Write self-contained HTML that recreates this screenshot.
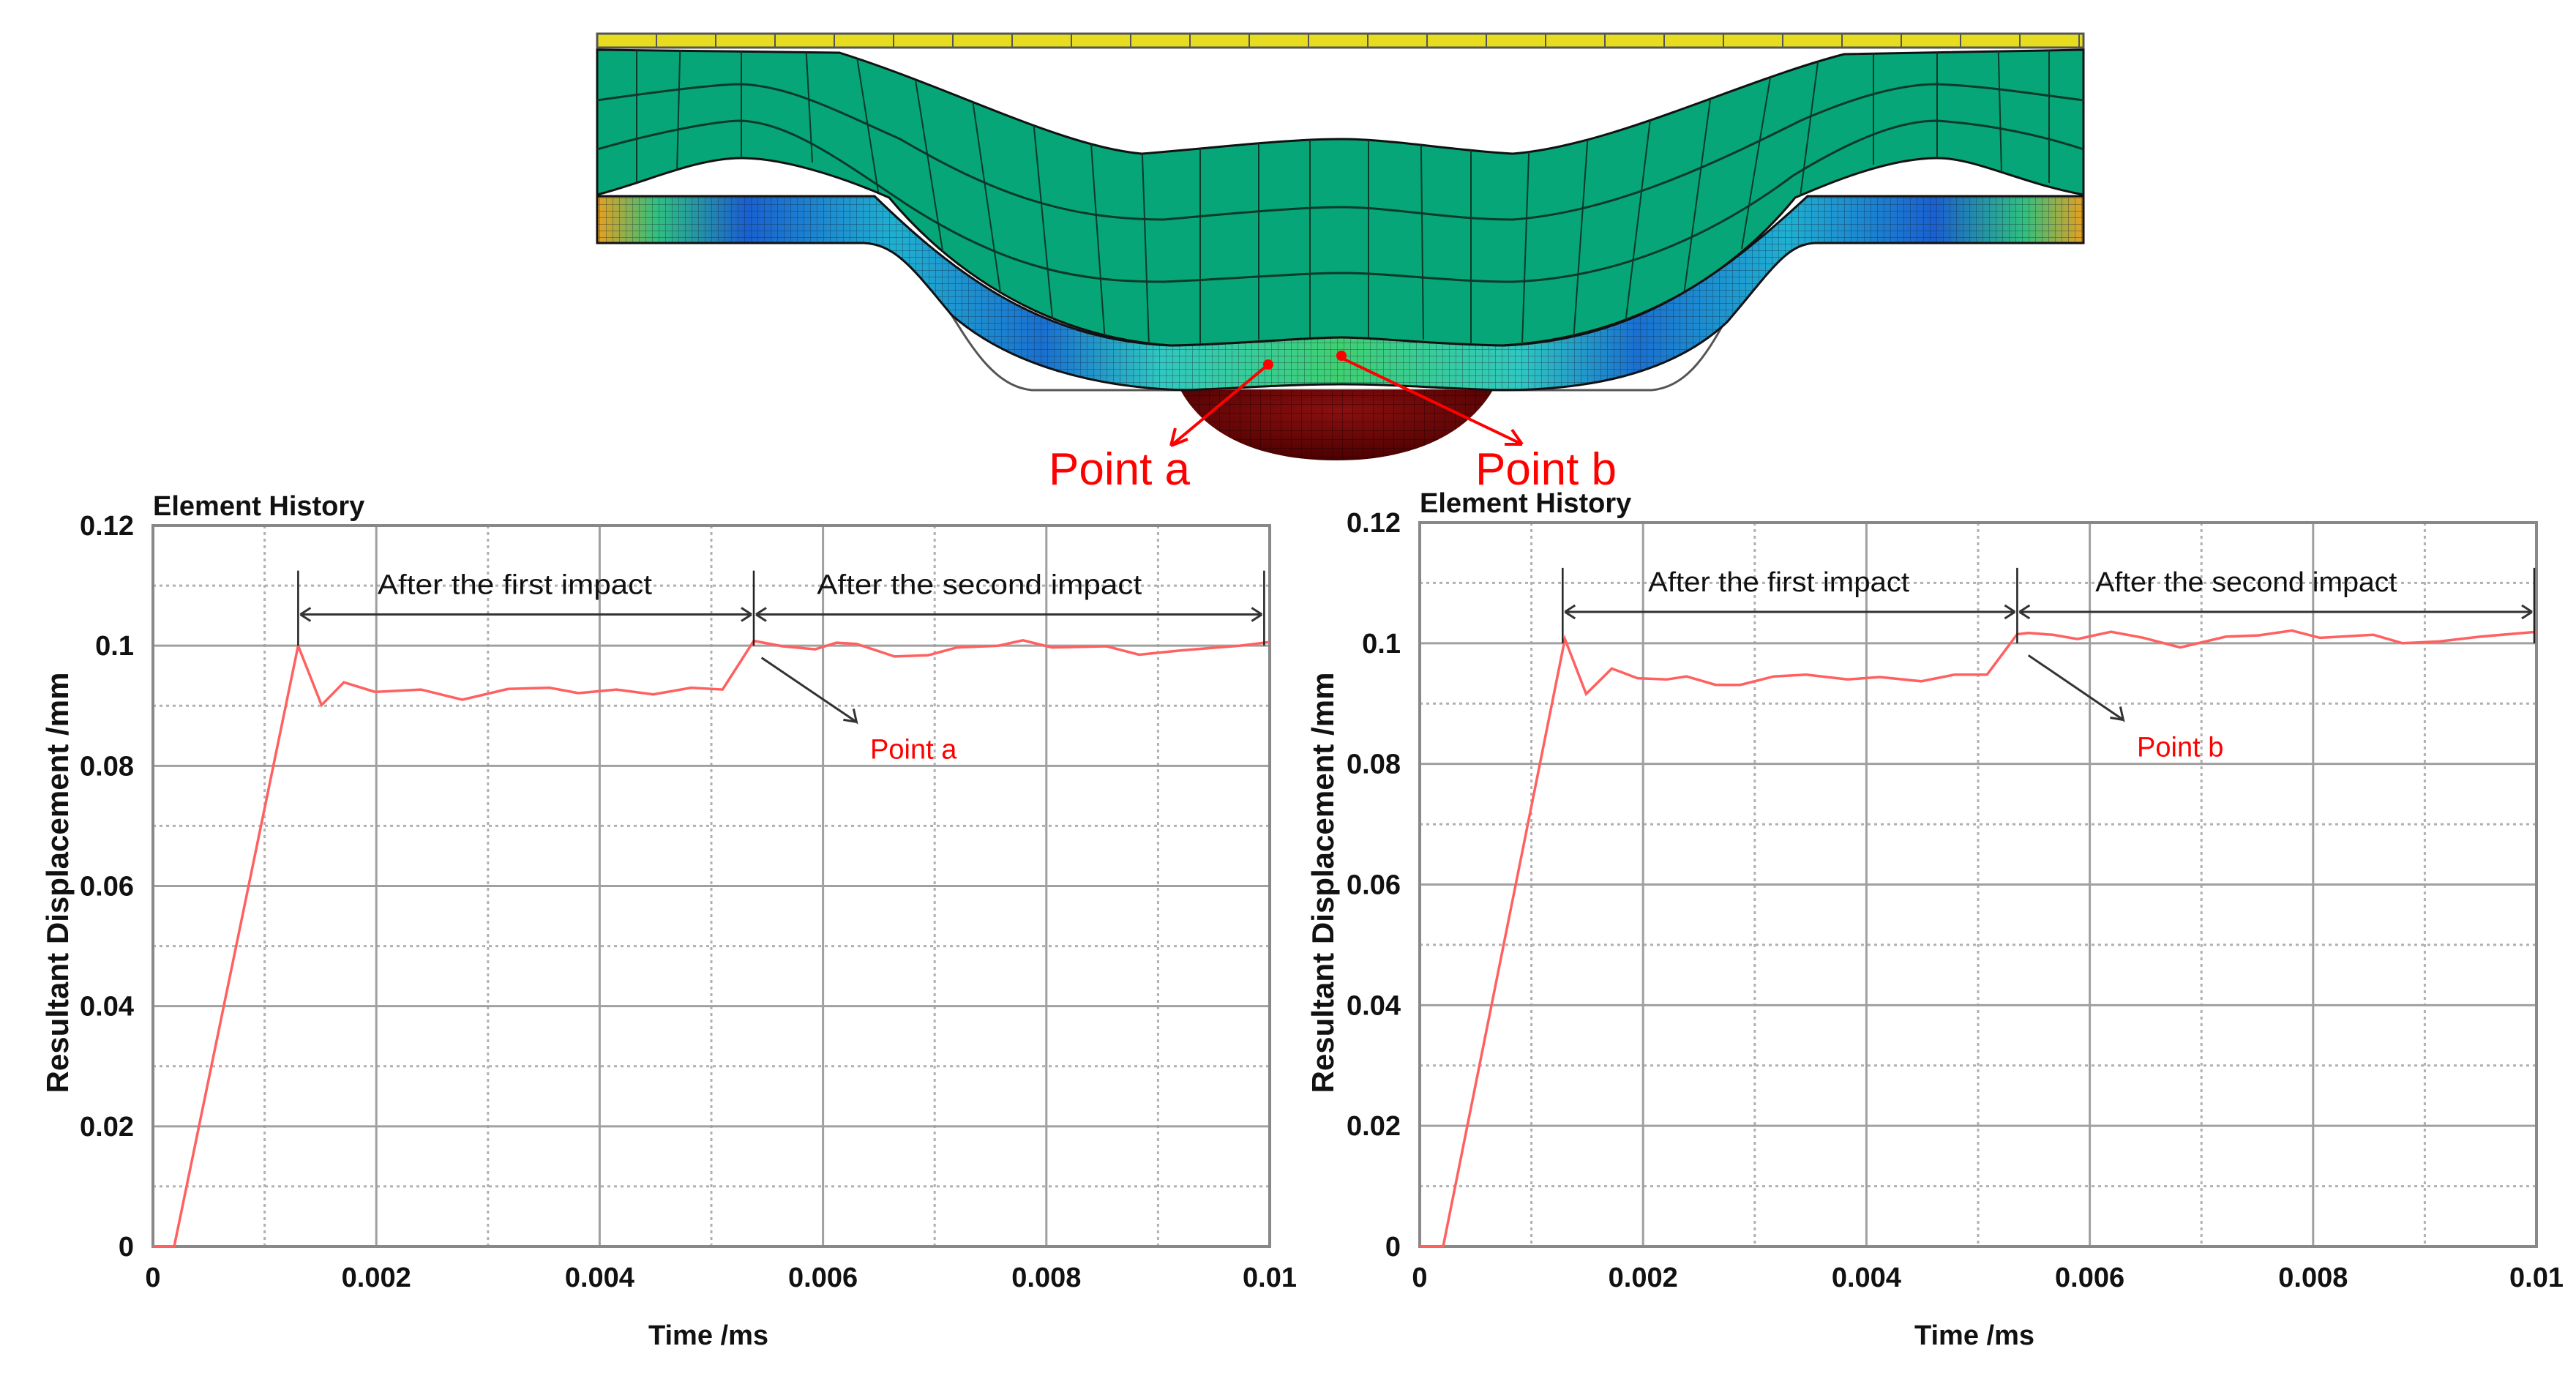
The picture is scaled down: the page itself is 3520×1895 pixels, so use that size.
<!DOCTYPE html>
<html><head><meta charset="utf-8"><style>
html,body{margin:0;padding:0;background:#fff;}
svg{display:block;font-family:"Liberation Sans",sans-serif;}
</style></head><body>
<svg id="root" width="3520" height="1895" viewBox="0 0 3520 1895" xmlns="http://www.w3.org/2000/svg">
<defs>
<pattern id="mesh" width="9" height="9" patternUnits="userSpaceOnUse"><path d="M0 0H9M0 0V9" stroke="#102030" stroke-width="1.2" opacity="0.55"/></pattern>
<pattern id="mesh2" width="14" height="12" patternUnits="userSpaceOnUse"><path d="M0 0H14M0 0V12" stroke="#200000" stroke-width="1.2" opacity="0.7"/></pattern>
<linearGradient id="bandg" x1="0" x2="1" y1="0" y2="0">
<stop offset="0" stop-color="#e8a020"/><stop offset="0.04" stop-color="#30c080"/><stop offset="0.1" stop-color="#1a60d0"/><stop offset="0.2" stop-color="#20b0d0"/><stop offset="0.3" stop-color="#1a70d0"/><stop offset="0.38" stop-color="#30c8c0"/><stop offset="0.5" stop-color="#40d070"/><stop offset="0.62" stop-color="#30c8c0"/><stop offset="0.7" stop-color="#1a70d0"/><stop offset="0.8" stop-color="#20b0d0"/><stop offset="0.9" stop-color="#1a60d0"/><stop offset="0.96" stop-color="#30c080"/><stop offset="1" stop-color="#e8a020"/>
</linearGradient>
<radialGradient id="ballg" cx="0.5" cy="0.3" r="0.7"><stop offset="0" stop-color="#8a1010"/><stop offset="1" stop-color="#4a0000"/></radialGradient>
<clipPath id="greenclip"><path d="M816 68 L1147 72 C1300 120 1450 200 1560 210 C1680 200 1760 190 1833 190 C1900 190 1980 205 2067 210 C2200 200 2380 110 2520 74 L2847 68 L2847 266 C2760 250 2700 216 2647 216 C2580 216 2500 250 2453 270 C2380 360 2250 460 2053 472 C1950 470 1880 461 1833 461 C1780 461 1700 470 1600 472 C1420 460 1290 360 1215 270 C1170 250 1080 216 1013 216 C950 216 880 250 816 266 Z"/></clipPath>
</defs>

<g id="fea">
  <path d="M1227 332 C1300 400 1330 525 1410 533 L2257 533 C2340 525 2360 400 2427 332" fill="none" stroke="#555" stroke-width="3"/>
  <path d="M1613 533 L2040 533 C2000 600 1920 629 1826 629 C1730 629 1650 600 1613 533 Z" fill="url(#ballg)"/>
  <path d="M1613 533 L2040 533 C2000 600 1920 629 1826 629 C1730 629 1650 600 1613 533 Z" fill="url(#mesh2)"/>
  <path d="M816 268 L1195 268 C1300 370 1420 465 1600 472 C1700 470 1780 461 1833 461 C1900 461 1980 470 2053 472 C2240 465 2360 370 2470 268 L2847 268 L2847 332 L2480 332 C2440 334 2420 370 2360 440 C2280 515 2160 533 2050 533 C1960 530 1900 525 1833 525 C1760 525 1700 530 1620 533 C1500 530 1380 500 1300 430 C1250 370 1225 334 1180 332 L816 332 Z" fill="url(#bandg)" stroke="#111" stroke-width="3"/>
  <path d="M816 268 L1195 268 C1300 370 1420 465 1600 472 C1700 470 1780 461 1833 461 C1900 461 1980 470 2053 472 C2240 465 2360 370 2470 268 L2847 268 L2847 332 L2480 332 C2440 334 2420 370 2360 440 C2280 515 2160 533 2050 533 C1960 530 1900 525 1833 525 C1760 525 1700 530 1620 533 C1500 530 1380 500 1300 430 C1250 370 1225 334 1180 332 L816 332 Z" fill="url(#mesh)"/>
  <path d="M816 68 L1147 72 C1300 120 1450 200 1560 210 C1680 200 1760 190 1833 190 C1900 190 1980 205 2067 210 C2200 200 2380 110 2520 74 L2847 68 L2847 266 C2760 250 2700 216 2647 216 C2580 216 2500 250 2453 270 C2380 360 2250 460 2053 472 C1950 470 1880 461 1833 461 C1780 461 1700 470 1600 472 C1420 460 1290 360 1215 270 C1170 250 1080 216 1013 216 C950 216 880 250 816 266 Z" fill="#06a678" stroke="#111" stroke-width="3"/>
  <g fill="none" stroke="#0a3a2a" stroke-width="3">
    <path d="M816 137 C900 125 980 115 1013 115 C1080 118 1140 150 1230 190 C1350 260 1450 300 1590 300 C1700 290 1780 283 1833 283 C1900 283 1980 300 2067 300 C2200 290 2330 230 2460 165 C2540 130 2600 115 2647 115 C2720 118 2790 130 2847 137"/>
    <path d="M816 204 C900 180 980 165 1013 165 C1080 168 1150 220 1240 280 C1380 370 1480 385 1590 385 C1700 380 1780 373 1833 373 C1900 373 1980 385 2067 385 C2200 380 2330 330 2450 240 C2540 185 2600 165 2647 165 C2720 170 2790 185 2847 204"/>
  </g>
  <g id="vlines" stroke="#0a3a2a" stroke-width="2" clip-path="url(#greenclip)"></g>
  <rect x="816" y="46" width="2031" height="19" fill="#e6dd20" stroke="#555" stroke-width="3"/>
  <g id="platediv" stroke="#555" stroke-width="2"></g>
  <circle cx="1733" cy="498" r="7" fill="#f00"/><circle cx="1833" cy="486" r="7" fill="#f00"/>
  <g stroke="#f00" stroke-width="4" fill="none">
    <path d="M1733 498 L1600 609 M1600 609 L1606 585 M1600 609 L1623 600"/>
    <path d="M1833 489 L2080 607 M2080 607 L2056 607 M2080 607 L2066 587"/>
  </g>
  <text x="1433" y="662" font-size="62" fill="#f00">Point a</text>
  <text x="2016" y="662" font-size="62" fill="#f00">Point b</text>
</g>

<g id="chartA"></g>
<g id="chartB"></g>
</svg>

<script>
const xTicks = [0, 0.002, 0.004, 0.006, 0.008, 0.01];
const xTickLabels = ["0", "0.002", "0.004", "0.006", "0.008", "0.01"];
const yTicks = [0, 0.02, 0.04, 0.06, 0.08, 0.1, 0.12];
const yTickLabels = ["0", "0.02", "0.04", "0.06", "0.08", "0.1", "0.12"];
const timesA = [0, 0.00019, 0.0013, 0.00151, 0.00171, 0.00199, 0.0024, 0.00277, 0.00318, 0.00355, 0.00381, 0.00415, 0.00448, 0.00482, 0.0051, 0.00538, 0.00564, 0.00593, 0.00612, 0.0063, 0.00664, 0.00694, 0.0072, 0.00757, 0.00779, 0.00805, 0.00854, 0.00883, 0.0092, 0.00973, 0.01];
const valuesA = [0, 0, 0.1, 0.0901, 0.0939, 0.0923, 0.0927, 0.091, 0.0928, 0.093, 0.0921, 0.0927, 0.0919, 0.093, 0.0927, 0.1008, 0.0999, 0.0994, 0.1005, 0.1003, 0.0982, 0.0984, 0.0997, 0.1, 0.1009, 0.0997, 0.0999, 0.0985, 0.0992, 0.1, 0.1006];
const timesB = [0, 0.00021, 0.0013, 0.00149, 0.00172, 0.00195, 0.00221, 0.00239, 0.00265, 0.00287, 0.00317, 0.00346, 0.00383, 0.00412, 0.00449, 0.00479, 0.00508, 0.00535, 0.00545, 0.00567, 0.00589, 0.00619, 0.00648, 0.00681, 0.00722, 0.00751, 0.00781, 0.00806, 0.00854, 0.0088, 0.00913, 0.0095, 0.01];
const valuesB = [0, 0, 0.1007, 0.0916, 0.0958, 0.0942, 0.094, 0.0945, 0.0931, 0.0931, 0.0945, 0.0948, 0.094, 0.0944, 0.0937, 0.0948, 0.0948, 0.1015, 0.1017, 0.1014, 0.1007, 0.1019, 0.1009, 0.0993, 0.1011, 0.1013, 0.1021, 0.1009, 0.1014, 0.1, 0.1003, 0.1011, 0.1019];
const impactTimesA = [0.0013, 0.00538, 0.00995];
const impactTimesB = [0.00128, 0.00535, 0.00998];

const NS = "http://www.w3.org/2000/svg";
function mk(parent, tag, attrs, text) {
  const e = document.createElementNS(NS, tag);
  for (const k in attrs) e.setAttribute(k, attrs[k]);
  if (text !== undefined) e.textContent = text;
  parent.appendChild(e);
  return e;
}

(function () {
  const pd = document.getElementById('platediv');
  for (let x = 816 + 81; x < 2847; x += 81) mk(pd, 'line', {x1: x, y1: 46, x2: x, y2: 65});
  const vl = document.getElementById('vlines');
  const segs = [[870,40,870,250],[930,40,925,235],[1013,40,1013,216],[1100,40,1110,222],[1165,40,1200,262],[1240,40,1290,355],[1315,40,1370,420],[1400,40,1440,455],[1480,40,1510,468],[1555,40,1570,472],[1640,40,1640,470],[1720,40,1720,464],[1790,40,1790,461],[1870,40,1870,461],[1940,40,1945,464],[2010,40,2010,470],[2095,40,2080,470],[2180,40,2150,466],[2270,40,2220,450],[2350,40,2300,410],[2430,40,2380,340],[2490,40,2460,268],[2560,40,2560,225],[2647,40,2647,216],[2730,40,2735,235],[2800,40,2800,250]];
  segs.forEach(s => mk(vl, 'line', {x1: s[0], y1: s[1], x2: s[2], y2: s[3]}));
})();

function drawChart(g, cfg) {
  const X = t => cfg.x0 + (t / 0.01) * (cfg.x1 - cfg.x0);
  const Y = v => cfg.yb - (v / 0.12) * (cfg.yb - cfg.yt);
  for (let i = 0; i < xTicks.length - 1; i++) {
    const t = (xTicks[i] + xTicks[i + 1]) / 2;
    const l = mk(g, 'line', {x1: X(t), y1: cfg.yt, x2: X(t), y2: cfg.yb, stroke: '#b0b0b0', 'stroke-width': 3, 'stroke-dasharray': '4 5'});
    
    
  }
  for (let i = 0; i < yTicks.length - 1; i++) {
    const v = (yTicks[i] + yTicks[i + 1]) / 2;
    const l = mk(g, 'line', {x1: cfg.x0, y1: Y(v), x2: cfg.x1, y2: Y(v), stroke: '#b0b0b0', 'stroke-width': 3, 'stroke-dasharray': '4 5'});
    
    
  }
  xTicks.forEach((t, i) => {
    const l = mk(g, 'line', {x1: X(t), y1: cfg.yt, x2: X(t), y2: cfg.yb, stroke: '#a0a0a0', 'stroke-width': 3});
    
    
    const tx = mk(g, 'text', {x: X(t), y: cfg.yb + 55, 'text-anchor': 'middle', 'font-size': 38, 'font-weight': 'bold', fill: '#111'}, xTickLabels[i]);
    
    
  });
  yTicks.forEach((v, i) => {
    const l = mk(g, 'line', {x1: cfg.x0, y1: Y(v), x2: cfg.x1, y2: Y(v), stroke: '#a0a0a0', 'stroke-width': 3});
    
    
    const tx = mk(g, 'text', {x: cfg.x0 - 26, y: Y(v) + 13, 'text-anchor': 'end', 'font-size': 38, 'font-weight': 'bold', fill: '#111'}, yTickLabels[i]);
    
    
  });
  const fr = mk(g, 'rect', {x: cfg.x0, y: cfg.yt, width: cfg.x1 - cfg.x0, height: cfg.yb - cfg.yt, fill: 'none', stroke: '#888', 'stroke-width': 4});
  
  
  const pts = cfg.times.map((t, i) => X(t).toFixed(1) + ',' + Y(cfg.values[i]).toFixed(1)).join(' ');
  const line = mk(g, 'polyline', {points: pts, fill: 'none', stroke: '#ff6060', 'stroke-width': 3.5});
  
  
  const it = cfg.impacts;
  it.forEach(t => {
    const l = mk(g, 'line', {x1: X(t), y1: Y(0.1125), x2: X(t), y2: Y(0.1), stroke: '#222', 'stroke-width': 2.5});
    
    
  });
  const ay = Y(0.1052);
  [[it[0], it[1]], [it[1], it[2]]].forEach(p => {
    const a = X(p[0]) + 3, b = X(p[1]) - 3;
    const ar = mk(g, 'path', {d: `M${a} ${ay} L${b} ${ay} M${a} ${ay} l14 -9 M${a} ${ay} l14 9 M${b} ${ay} l-14 -9 M${b} ${ay} l-14 9`, stroke: '#333', 'stroke-width': 3, fill: 'none'});
    
    
  });
  const t1 = mk(g, 'text', {x: X((it[0] + it[1]) / 2 - 0.0001), y: Y(0.1102) + 13, 'text-anchor': 'middle', 'font-size': 38, fill: '#111', 'textLength': cfg.w1, 'lengthAdjust': 'spacingAndGlyphs'}, 'After the first impact');
  
  
  const t2 = mk(g, 'text', {x: X(0.0074), y: Y(0.1102) + 13, 'text-anchor': 'middle', 'font-size': 38, fill: '#111', 'textLength': cfg.w2, 'lengthAdjust': 'spacingAndGlyphs'}, 'After the second impact');
  
  
  const pa = mk(g, 'path', {d: `M${X(0.00545)} ${Y(0.098)} L${X(0.0063)} ${Y(0.0873)} l-4 -18 M${X(0.0063)} ${Y(0.0873)} l-18 -3`, stroke: '#333', 'stroke-width': 3, fill: 'none'});
  
  
  const pl = mk(g, 'text', {x: X(0.00681), y: Y(0.0828) + 13, 'text-anchor': 'middle', 'font-size': 38, fill: '#f00'}, cfg.pointLabel);
  
  
  const title = mk(g, 'text', {x: cfg.x0, y: cfg.yt - 14, 'font-size': 38, 'font-weight': 'bold', fill: '#111'}, 'Element History');
  
  
  const xt = mk(g, 'text', {x: cfg.xtx, y: cfg.yb + 134, 'text-anchor': 'middle', 'font-size': 38, 'font-weight': 'bold', fill: '#111'}, 'Time /ms');
  
  
  const yt = mk(g, 'text', {x: 0, y: 0, 'text-anchor': 'middle', 'font-size': 42, 'font-weight': 'bold', fill: '#111', 'textLength': 575, 'lengthAdjust': 'spacingAndGlyphs', transform: `translate(${cfg.ytx},1206) rotate(-90)`}, 'Resultant Displacement  /mm');
  
  
}

drawChart(document.getElementById('chartA'), {x0: 209, x1: 1735, yt: 718, yb: 1703, times: timesA, values: valuesA, impacts: impactTimesA, pointLabel: 'Point a', xtx: 968, ytx: 93, w1: 375, w2: 444});
drawChart(document.getElementById('chartB'), {x0: 1940, x1: 3466, yt: 714, yb: 1703, times: timesB, values: valuesB, impacts: impactTimesB, pointLabel: 'Point b', xtx: 2698, ytx: 1822, w1: 357, w2: 412});
</script>
</body></html>
